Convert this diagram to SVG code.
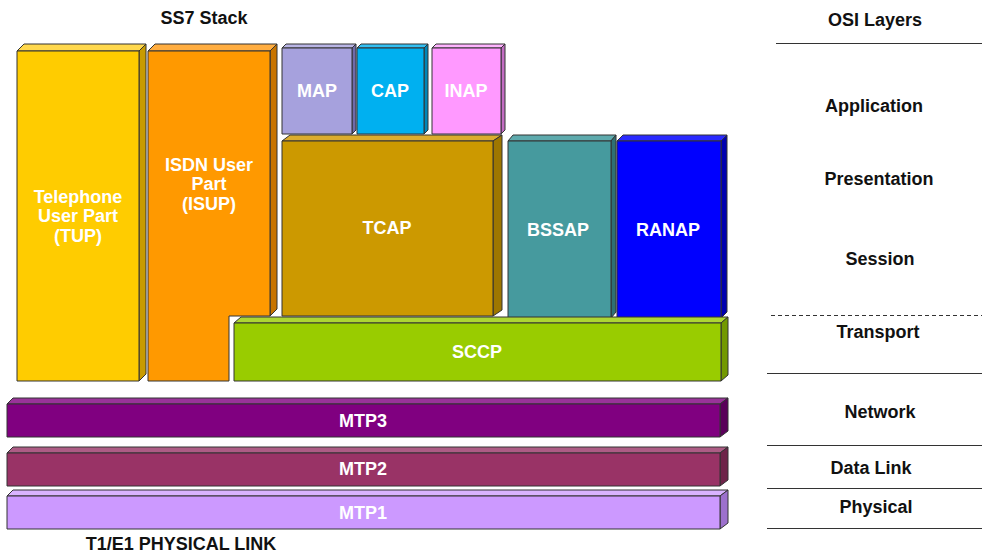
<svg xmlns="http://www.w3.org/2000/svg" width="982" height="553" viewBox="0 0 982 553">
<style>
  .b { stroke: #333333; stroke-width: 1; stroke-linejoin: round; }
  .t { font-family: "Liberation Sans", Arial, sans-serif; font-weight: bold; font-size: 18px; fill: #ffffff; text-anchor: middle; }
  .k { font-family: "Liberation Sans", Arial, sans-serif; font-weight: bold; font-size: 18px; fill: #111111; text-anchor: middle; }
  .ln { stroke: #333333; stroke-width: 1.2; fill: none; }
</style>
<rect width="982" height="553" fill="#ffffff"/>

<text class="k" x="204" y="24">SS7 Stack</text>

<g id="tup">
  <polygon class="b" fill="#FFD84D" points="17,51 24,44 146,44 139,51"/>
  <polygon class="b" fill="#C89B00" points="139,51 146,44 146,374 139,381"/>
  <rect class="b" fill="#FFCC00" x="17" y="51" width="122" height="330"/>
  <text class="t" x="78" y="203">Telephone</text>
  <text class="t" x="78" y="222">User Part</text>
  <text class="t" x="78" y="242">(TUP)</text>
</g>

<g id="isup">
  <polygon class="b" fill="#FFAD40" points="148,51 155,44 277,44 270,51"/>
  <polygon class="b" fill="#C87400" points="270,51 277,44 277,309 270,316"/>
  <polygon class="b" fill="#FF9900" points="148,51 270,51 270,316 229,316 229,381 148,381"/>
  <text class="t" x="209" y="171">ISDN User</text>
  <text class="t" x="209" y="190">Part</text>
  <text class="t" x="209" y="210">(ISUP)</text>
</g>

<g id="map">
  <polygon class="b" fill="#B9B5E5" points="282,48 286,44 356,44 352,48"/>
  <polygon class="b" fill="#6F6AA8" points="352,48 356,44 356,130 352,134"/>
  <rect class="b" fill="#A6A1DD" x="282" y="48" width="70" height="86"/>
  <text class="t" x="317" y="97">MAP</text>
</g>

<g id="cap">
  <polygon class="b" fill="#33C0F3" points="357,48 361,44 428,44 424,48"/>
  <polygon class="b" fill="#0086B8" points="424,48 428,44 428,130 424,134"/>
  <rect class="b" fill="#00B0F0" x="357" y="48" width="67" height="86"/>
  <text class="t" x="390" y="97">CAP</text>
</g>

<g id="inap">
  <polygon class="b" fill="#FFB3FF" points="432,48 436,44 505,44 501,48"/>
  <polygon class="b" fill="#C26CC2" points="501,48 505,44 505,130 501,134"/>
  <rect class="b" fill="#FF99FF" x="432" y="48" width="69" height="86"/>
  <text class="t" x="466" y="97">INAP</text>
</g>

<g id="tcap">
  <polygon class="b" fill="#DBAC2E" points="282,141 290,135 502,135 493,141"/>
  <polygon class="b" fill="#9E7700" points="493,141 502,135 502,310 493,316"/>
  <rect class="b" fill="#CC9900" x="282" y="141" width="211" height="175"/>
  <text class="t" x="387" y="234">TCAP</text>
</g>

<g id="bssap">
  <polygon class="b" fill="#5EAAAD" points="508,141 513,135 616,135 611,141"/>
  <polygon class="b" fill="#2E7074" points="611,141 616,135 616,312 611,318"/>
  <rect class="b" fill="#469A9E" x="508" y="141" width="103" height="177"/>
  <text class="t" x="558" y="236">BSSAP</text>
</g>

<g id="ranap">
  <polygon class="b" fill="#2A2AFF" points="617,141 623,135 727,135 721,141"/>
  <polygon class="b" fill="#0000B0" points="721,141 727,135 727,312 721,318"/>
  <rect class="b" fill="#0000FF" x="617" y="141" width="104" height="177"/>
  <text class="t" x="668" y="236">RANAP</text>
</g>

<g id="sccp">
  <polygon class="b" fill="#ADD633" points="234,323 241,317 728,317 721,323"/>
  <polygon class="b" fill="#739900" points="721,323 728,317 728,375 721,381"/>
  <rect class="b" fill="#99CC00" x="234" y="323" width="487" height="58"/>
  <text class="t" x="477" y="358">SCCP</text>
</g>

<g id="mtp3">
  <polygon class="b" fill="#993399" points="7,404 13,398 728,398 720,404"/>
  <polygon class="b" fill="#5A005A" points="720,404 728,398 728,431 720,437"/>
  <rect class="b" fill="#800080" x="7" y="404" width="713" height="33"/>
  <text class="t" x="363" y="427">MTP3</text>
</g>

<g id="mtp2">
  <polygon class="b" fill="#AD5C85" points="7,453 13,447 728,447 720,453"/>
  <polygon class="b" fill="#6E2449" points="720,453 728,447 728,480 720,486"/>
  <rect class="b" fill="#993366" x="7" y="453" width="713" height="33"/>
  <text class="t" x="363" y="475">MTP2</text>
</g>

<g id="mtp1">
  <polygon class="b" fill="#D9B3FF" points="7,496 13,490 728,490 720,496"/>
  <polygon class="b" fill="#9C70CC" points="720,496 728,490 728,523 720,529"/>
  <rect class="b" fill="#CC99FF" x="7" y="496" width="713" height="33"/>
  <text class="t" x="363" y="519">MTP1</text>
</g>

<text class="k" x="181" y="550">T1/E1 PHYSICAL LINK</text>

<g id="osi-layers">
  <text class="k" x="875" y="26">OSI Layers</text>
  <line class="ln" x1="776" y1="43.5" x2="982" y2="43.5"/>
  <text class="k" x="874" y="112">Application</text>
  <text class="k" x="879" y="185">Presentation</text>
  <text class="k" x="880" y="265">Session</text>
  <line class="ln" x1="771" y1="315.5" x2="982" y2="315.5" stroke-dasharray="4,3"/>
  <text class="k" x="878" y="338">Transport</text>
  <line class="ln" x1="767" y1="373.5" x2="982" y2="373.5"/>
  <text class="k" x="880" y="418">Network</text>
  <line class="ln" x1="767" y1="445.5" x2="982" y2="445.5"/>
  <text class="k" x="871" y="474">Data Link</text>
  <line class="ln" x1="767" y1="488.5" x2="982" y2="488.5"/>
  <text class="k" x="876" y="513">Physical</text>
  <line class="ln" x1="767" y1="528.5" x2="982" y2="528.5"/>
</g>
</svg>
